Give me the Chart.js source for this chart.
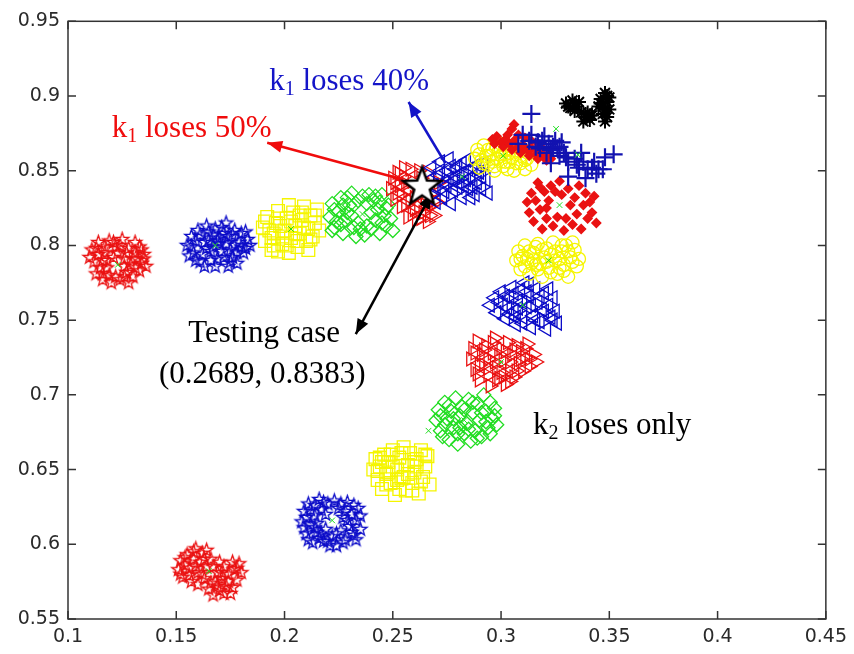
<!DOCTYPE html>
<html>
<head>
<meta charset="utf-8">
<script src="https://cdn.jsdelivr.net/npm/chart.js@4.4.1/dist/chart.umd.min.js"></script>
<style>
  html, body { margin: 0; padding: 0; background: #fff; }
  #wrap { width: 854px; height: 654px; position: relative; }
</style>
</head>
<body>
<div id="wrap"><canvas id="scatterChart"></canvas></div>
<script>
// tick values and labels (MATLAB style)
const xTickValues = [0.1, 0.15, 0.2, 0.25, 0.3, 0.35, 0.4, 0.45];
const xTickLabels = ['0.1', '0.15', '0.2', '0.25', '0.3', '0.35', '0.4', '0.45'];
const yTickValues = [0.55, 0.6, 0.65, 0.7, 0.75, 0.8, 0.85, 0.9, 0.95];
const yTickLabels = ['0.55', '0.6', '0.65', '0.7', '0.75', '0.8', '0.85', '0.9', '0.95'];

// upper arm (k1 losses), left to right
const redStarsUpper = [[0.111,0.797],[0.114,0.802],[0.117,0.795],[0.119,0.803],[0.122,0.799],[0.125,0.804],[0.128,0.798],[0.131,0.802],[0.134,0.797],[0.112,0.789],[0.115,0.785],[0.118,0.790],[0.121,0.792],[0.126,0.791],[0.129,0.787],[0.132,0.791],[0.136,0.786],[0.113,0.781],[0.116,0.777],[0.119,0.780],[0.127,0.782],[0.130,0.779],[0.133,0.783],[0.120,0.775],[0.124,0.777],[0.128,0.775],[0.117,0.799],[0.123,0.795],[0.135,0.791],[0.131,0.795],[0.114,0.794],[0.126,0.786],
    [0.110,0.792],[0.113,0.798],[0.116,0.790],[0.118,0.785],[0.121,0.802],[0.124,0.800],[0.127,0.795],[0.130,0.791],[0.133,0.799],[0.135,0.794],[0.116,0.781],[0.122,0.779],[0.131,0.785],[0.134,0.788],[0.126,0.779]];
const blueStarsUpper = [[0.155,0.800],[0.157,0.806],[0.158,0.795],[0.160,0.810],[0.161,0.789],[0.163,0.802],[0.164,0.813],[0.166,0.796],[0.167,0.807],[0.168,0.786],[0.170,0.801],[0.171,0.812],[0.172,0.792],[0.174,0.806],[0.175,0.797],[0.177,0.810],[0.178,0.788],[0.179,0.802],[0.181,0.795],[0.183,0.804],[0.182,0.798],[0.159,0.803],[0.162,0.794],[0.165,0.809],[0.169,0.791],[0.173,0.815],[0.176,0.792],[0.180,0.808],[0.156,0.793],[0.163,0.786],[0.174,0.786],[0.170,0.805],[0.167,0.799],[0.177,0.800],
    [0.157,0.799],[0.159,0.790],[0.161,0.807],[0.164,0.798],[0.166,0.790],[0.168,0.811],[0.169,0.803],[0.171,0.796],[0.173,0.801],[0.175,0.789],[0.176,0.807],[0.178,0.795],[0.180,0.799],[0.182,0.809],[0.184,0.800],[0.172,0.808],[0.165,0.803]];
const yellowSquaresUpper = [[0.190,0.812],[0.191,0.803],[0.192,0.819],[0.194,0.797],[0.195,0.808],[0.196,0.815],[0.197,0.823],[0.199,0.801],[0.200,0.810],[0.201,0.818],[0.202,0.795],[0.203,0.805],[0.204,0.822],[0.205,0.813],[0.206,0.799],[0.207,0.808],[0.208,0.817],[0.209,0.826],[0.210,0.803],[0.211,0.811],[0.212,0.820],[0.213,0.806],[0.214,0.815],[0.215,0.824],[0.193,0.810],[0.198,0.813],[0.202,0.827],[0.206,0.803],[0.211,0.797],[0.216,0.810],[0.195,0.800],[0.208,0.822],
    [0.191,0.816],[0.194,0.805],[0.197,0.818],[0.199,0.806],[0.201,0.800],[0.203,0.816],[0.205,0.808],[0.207,0.820],[0.209,0.812],[0.212,0.804],[0.214,0.820],[0.197,0.796]];
const greenDiamondsUpper = [[0.221,0.819],[0.222,0.828],[0.223,0.812],[0.225,0.823],[0.226,0.832],[0.227,0.808],[0.228,0.817],[0.230,0.827],[0.231,0.835],[0.232,0.812],[0.233,0.806],[0.234,0.830],[0.236,0.833],[0.235,0.811],[0.237,0.807],[0.240,0.811],[0.241,0.830],[0.242,0.817],[0.243,0.824],[0.244,0.808],[0.245,0.834],[0.246,0.820],[0.247,0.813],[0.248,0.827],[0.249,0.818],[0.231,0.820],[0.229,0.822],[0.239,0.834],[0.244,0.829],[0.224,0.816],[0.250,0.810],[0.238,0.828],
    [0.223,0.824],[0.226,0.814],[0.229,0.832],[0.232,0.827],[0.234,0.815],[0.240,0.822],[0.242,0.833],[0.245,0.815],[0.247,0.825],[0.227,0.827],[0.238,0.813],[0.222,0.810]];
const redTrianglesUpper = [[0.249,0.838],[0.250,0.845],[0.251,0.831],[0.252,0.849],[0.253,0.840],[0.254,0.834],[0.255,0.846],[0.256,0.827],[0.257,0.837],[0.258,0.851],[0.259,0.821],[0.259,0.843],[0.260,0.832],[0.261,0.817],[0.262,0.826],[0.263,0.845],[0.264,0.822],[0.265,0.831],[0.266,0.816],[0.267,0.826],[0.268,0.835],[0.269,0.820],[0.270,0.829],[0.271,0.842],[0.254,0.826],[0.257,0.819],[0.263,0.836],[0.266,0.849],[0.255,0.852],[0.261,0.838],
    [0.251,0.842],[0.253,0.848],[0.256,0.841],[0.258,0.830],[0.260,0.824],[0.263,0.818],[0.265,0.827],[0.267,0.820],[0.269,0.830],[0.252,0.835],[0.262,0.850]];
const blueTrianglesUpper = [[0.267,0.844],[0.268,0.852],[0.270,0.838],[0.271,0.847],[0.272,0.856],[0.273,0.832],[0.274,0.842],[0.275,0.850],[0.276,0.858],[0.277,0.828],[0.278,0.837],[0.279,0.846],[0.280,0.853],[0.281,0.841],[0.282,0.832],[0.283,0.849],[0.284,0.857],[0.285,0.838],[0.286,0.845],[0.287,0.852],[0.288,0.834],[0.289,0.842],[0.290,0.849],[0.291,0.838],[0.292,0.855],[0.293,0.844],[0.281,0.848],[0.279,0.851],[0.284,0.844],[0.276,0.845],[0.294,0.835],[0.270,0.829],
    [0.269,0.840],[0.272,0.850],[0.274,0.836],[0.277,0.853],[0.278,0.843],[0.280,0.839],[0.282,0.855],[0.283,0.840],[0.285,0.851],[0.287,0.839],[0.289,0.854],[0.291,0.846],[0.275,0.840],[0.286,0.832]];
const yellowCirclesUpper = [[0.288,0.858],[0.289,0.864],[0.290,0.852],[0.292,0.867],[0.293,0.860],[0.294,0.854],[0.296,0.865],[0.297,0.850],[0.298,0.858],[0.300,0.868],[0.301,0.853],[0.302,0.861],[0.304,0.856],[0.305,0.866],[0.306,0.850],[0.307,0.861],[0.309,0.855],[0.310,0.864],[0.311,0.851],[0.312,0.858],[0.313,0.863],[0.295,0.860],[0.299,0.863],[0.303,0.851],[0.308,0.868],[0.291,0.857],[0.314,0.854],[0.300,0.856],
    [0.290,0.861],[0.292,0.855],[0.294,0.864],[0.296,0.856],[0.298,0.866],[0.300,0.860],[0.302,0.856],[0.303,0.865],[0.305,0.859],[0.307,0.855],[0.309,0.860],[0.311,0.857],[0.297,0.853],[0.304,0.862]];
const redDotsUpper = [[0.296,0.871],[0.297,0.868],[0.298,0.873],[0.300,0.869],[0.301,0.866],[0.302,0.871],[0.304,0.868],[0.305,0.864],[0.306,0.870],[0.308,0.866],[0.309,0.862],[0.310,0.867],[0.312,0.864],[0.313,0.860],[0.314,0.865],[0.316,0.861],[0.317,0.858],[0.318,0.863],[0.320,0.860],[0.321,0.857],[0.322,0.861],[0.323,0.858],[0.306,0.881],[0.305,0.878],[0.308,0.874],[0.311,0.872],[0.314,0.870],[0.317,0.868],[0.303,0.874],[0.319,0.865]];
const bluePlus = [[0.314,0.888],[0.314,0.874],[0.310,0.874],[0.317,0.869],[0.320,0.873],[0.322,0.868],[0.324,0.866],[0.326,0.865],[0.321,0.862],[0.318,0.865],[0.323,0.855],[0.327,0.860],[0.329,0.862],[0.331,0.856],[0.334,0.858],[0.336,0.852],[0.340,0.851],[0.339,0.845],[0.331,0.846],[0.343,0.856],[0.345,0.851],[0.347,0.851],[0.348,0.859],[0.352,0.861],[0.344,0.848],[0.313,0.870],[0.325,0.870],[0.337,0.862],[0.308,0.868],[0.328,0.869],
    [0.316,0.866],[0.319,0.870],[0.323,0.864],[0.327,0.866],[0.330,0.859],[0.335,0.854],[0.342,0.852],[0.338,0.856]];
const blackAsterisks = [[0.330,0.895],[0.332,0.892],[0.333,0.897],[0.335,0.893],[0.334,0.890],[0.337,0.889],[0.339,0.886],[0.340,0.889],[0.341,0.884],[0.338,0.883],[0.342,0.887],[0.346,0.898],[0.347,0.893],[0.348,0.902],[0.349,0.896],[0.350,0.891],[0.347,0.888],[0.348,0.883],[0.345,0.893],[0.350,0.899],[0.336,0.896],
    [0.331,0.893],[0.334,0.895],[0.339,0.888],[0.341,0.887],[0.346,0.895],[0.349,0.900],[0.348,0.891],[0.349,0.886]];

// lower arm (k2 loses only), top to bottom
const redDotsLower = [[0.312,0.829],[0.313,0.822],[0.314,0.835],[0.315,0.816],[0.316,0.830],[0.317,0.842],[0.318,0.824],[0.319,0.811],[0.320,0.836],[0.321,0.818],[0.322,0.830],[0.323,0.840],[0.324,0.813],[0.325,0.836],[0.326,0.819],[0.328,0.834],[0.329,0.810],[0.330,0.818],[0.331,0.838],[0.332,0.827],[0.333,0.814],[0.334,0.832],[0.335,0.821],[0.336,0.840],[0.337,0.811],[0.338,0.827],[0.339,0.835],[0.340,0.818],[0.341,0.829],[0.342,0.822],[0.343,0.833],[0.344,0.815],[0.318,0.839],[0.327,0.843],[0.321,0.825]];
const yellowCirclesLower = [[0.307,0.790],[0.308,0.796],[0.309,0.784],[0.311,0.800],[0.312,0.791],[0.313,0.781],[0.315,0.795],[0.316,0.787],[0.317,0.801],[0.319,0.779],[0.320,0.792],[0.321,0.798],[0.322,0.785],[0.324,0.802],[0.325,0.790],[0.326,0.781],[0.328,0.796],[0.329,0.787],[0.330,0.800],[0.331,0.779],[0.332,0.792],[0.334,0.797],[0.335,0.786],[0.318,0.788],[0.323,0.794],[0.327,0.785],[0.310,0.793],[0.333,0.802],[0.336,0.791],[0.314,0.788],
    [0.309,0.791],[0.311,0.786],[0.313,0.796],[0.315,0.790],[0.317,0.784],[0.319,0.797],[0.321,0.789],[0.323,0.782],[0.325,0.796],[0.327,0.791],[0.329,0.783],[0.331,0.796],[0.333,0.789],[0.316,0.799],[0.328,0.800]];
const blueTrianglesLower = [[0.295,0.760],[0.297,0.765],[0.298,0.755],[0.300,0.769],[0.301,0.760],[0.302,0.751],[0.304,0.765],[0.305,0.772],[0.306,0.756],[0.307,0.747],[0.308,0.763],[0.309,0.770],[0.310,0.752],[0.311,0.775],[0.312,0.759],[0.313,0.766],[0.314,0.745],[0.315,0.753],[0.316,0.771],[0.317,0.762],[0.318,0.749],[0.319,0.757],[0.320,0.768],[0.321,0.744],[0.322,0.760],[0.323,0.752],[0.324,0.765],[0.325,0.756],[0.326,0.748],[0.303,0.758],[0.310,0.762],
    [0.299,0.762],[0.302,0.766],[0.304,0.754],[0.306,0.768],[0.308,0.758],[0.310,0.748],[0.312,0.769],[0.314,0.760],[0.316,0.750],[0.318,0.766],[0.320,0.756],[0.322,0.771],[0.324,0.750],[0.313,0.774],[0.307,0.752]];
const redTrianglesLower = [[0.286,0.724],[0.287,0.731],[0.288,0.717],[0.289,0.736],[0.290,0.710],[0.291,0.727],[0.292,0.720],[0.293,0.733],[0.294,0.713],[0.295,0.706],[0.296,0.728],[0.297,0.738],[0.298,0.718],[0.299,0.711],[0.300,0.731],[0.301,0.723],[0.302,0.707],[0.303,0.735],[0.304,0.716],[0.305,0.727],[0.306,0.712],[0.307,0.733],[0.308,0.721],[0.309,0.729],[0.310,0.716],[0.311,0.725],[0.312,0.734],[0.313,0.719],[0.315,0.727],[0.316,0.722],[0.294,0.724],[0.300,0.715],[0.289,0.714],
    [0.288,0.728],[0.290,0.720],[0.292,0.730],[0.294,0.718],[0.296,0.735],[0.297,0.722],[0.299,0.727],[0.301,0.712],[0.302,0.729],[0.304,0.722],[0.306,0.730],[0.307,0.716],[0.309,0.724],[0.311,0.731],[0.313,0.724],[0.298,0.710],[0.304,0.709]];
const greenDiamondsLower = [[0.270,0.683],[0.271,0.690],[0.272,0.676],[0.274,0.695],[0.275,0.684],[0.276,0.670],[0.277,0.689],[0.278,0.678],[0.279,0.698],[0.280,0.667],[0.281,0.686],[0.282,0.692],[0.283,0.674],[0.284,0.681],[0.285,0.697],[0.286,0.669],[0.287,0.688],[0.288,0.676],[0.289,0.694],[0.290,0.683],[0.291,0.672],[0.292,0.700],[0.293,0.689],[0.294,0.678],[0.295,0.695],[0.296,0.684],[0.297,0.691],[0.298,0.680],[0.273,0.672],[0.281,0.678],
    [0.272,0.686],[0.274,0.680],[0.276,0.693],[0.278,0.684],[0.280,0.674],[0.283,0.690],[0.285,0.677],[0.287,0.695],[0.289,0.671],[0.291,0.688],[0.293,0.682],[0.295,0.674],[0.297,0.686]];
const yellowSquaresLower = [[0.241,0.650],[0.242,0.657],[0.243,0.643],[0.244,0.652],[0.245,0.637],[0.246,0.660],[0.247,0.647],[0.248,0.655],[0.249,0.641],[0.250,0.663],[0.251,0.633],[0.252,0.650],[0.253,0.658],[0.254,0.644],[0.255,0.665],[0.256,0.636],[0.257,0.653],[0.258,0.661],[0.259,0.641],[0.260,0.648],[0.261,0.657],[0.262,0.634],[0.263,0.663],[0.264,0.645],[0.265,0.652],[0.266,0.659],[0.267,0.640],[0.248,0.648],[0.255,0.645],[0.260,0.655],[0.244,0.658],
    [0.243,0.649],[0.245,0.655],[0.247,0.640],[0.250,0.652],[0.252,0.643],[0.254,0.661],[0.257,0.647],[0.259,0.636],[0.261,0.652],[0.263,0.642],[0.265,0.660],[0.253,0.637],[0.249,0.660]];
const blueStarsLower = [[0.208,0.615],[0.209,0.622],[0.210,0.607],[0.211,0.627],[0.212,0.613],[0.213,0.601],[0.214,0.619],[0.215,0.608],[0.216,0.630],[0.217,0.623],[0.218,0.602],[0.219,0.610],[0.220,0.627],[0.222,0.605],[0.223,0.629],[0.224,0.599],[0.225,0.624],[0.226,0.609],[0.227,0.618],[0.228,0.603],[0.229,0.628],[0.230,0.612],[0.231,0.620],[0.232,0.606],[0.233,0.616],[0.234,0.624],[0.235,0.610],[0.214,0.611],[0.210,0.618],[0.221,0.599],[0.228,0.622],[0.216,0.604],
    [0.209,0.611],[0.211,0.603],[0.212,0.623],[0.214,0.626],[0.215,0.614],[0.217,0.607],[0.219,0.620],[0.220,0.602],[0.224,0.607],[0.226,0.627],[0.227,0.601],[0.229,0.616],[0.231,0.608],[0.232,0.626],[0.233,0.603],[0.235,0.619],[0.218,0.628]];
const redStarsLower = [[0.151,0.583],[0.152,0.589],[0.153,0.578],[0.155,0.593],[0.156,0.584],[0.157,0.575],[0.158,0.590],[0.159,0.597],[0.160,0.581],[0.161,0.588],[0.162,0.594],[0.163,0.577],[0.164,0.585],[0.165,0.570],[0.166,0.590],[0.167,0.566],[0.168,0.575],[0.169,0.581],[0.170,0.569],[0.171,0.577],[0.172,0.585],[0.173,0.572],[0.174,0.580],[0.175,0.567],[0.176,0.588],[0.177,0.583],[0.178,0.576],[0.179,0.587],[0.154,0.586],[0.160,0.573],[0.170,0.588],
    [0.152,0.580],[0.154,0.591],[0.156,0.579],[0.158,0.595],[0.159,0.585],[0.162,0.580],[0.163,0.590],[0.166,0.574],[0.167,0.585],[0.169,0.572],[0.171,0.581],[0.172,0.567],[0.174,0.575],[0.176,0.571],[0.178,0.584],[0.180,0.581],[0.164,0.596]];

// cluster centres (green x) and the testing case
const centroids = [[0.123,0.787],[0.168,0.800],[0.203,0.811],[0.236,0.821],[0.262,0.834],[0.282,0.846],[0.301,0.860],[0.3254,0.878],[0.3355,0.8607],[0.327,0.827],[0.322,0.790],[0.310,0.760],[0.300,0.722],[0.283,0.683],[0.2665,0.676],[0.222,0.616],[0.165,0.582]];
const testingCase = [[0.2635, 0.839]];

const labelK1Loses50 = ['k', '1', ' loses 50%'];
const labelK1Loses40 = ['k', '1', ' loses 40%'];
const labelK2LosesOnly = ['k', '2', ' loses only'];
const labelTesting = 'Testing case';
const labelTestingValue = '(0.2689, 0.8383)';

const RED = '#ea1212';
const BLUE = '#0c0cc8';
const YELLOW = '#f5f500';
const GREEN = '#22dd22';
const LW = 1.3;

function starImage(color, outer, inner, lw, fill) {
    const size = Math.ceil(outer * 2 + lw * 2 + 2);
    const c = document.createElement('canvas');
    c.width = size;
    c.height = size;
    const g = c.getContext('2d');
    g.beginPath();
    for (let k = 0; k < 10; k++) {
        const r = k % 2 ? inner : outer;
        const a = -Math.PI / 2 + k * Math.PI / 5;
        g.lineTo(size / 2 + r * Math.cos(a), size / 2 + r * Math.sin(a));
    }
    g.closePath();
    if (fill) {
        g.fillStyle = fill;
        g.fill();
    }
    g.lineJoin = 'miter';
    g.lineWidth = lw;
    g.strokeStyle = color;
    g.stroke();
    return c;
}

function cluster(points, style, color, radius, extra = {}) {
    return Object.assign({
        data: points.map(p => ({ x: p[0], y: p[1] })),
        pointStyle: style,
        pointRadius: radius,
        pointHoverRadius: radius,
        pointBorderColor: color,
        pointBackgroundColor: 'rgba(0,0,0,0)',
        pointBorderWidth: LW,
        showLine: false
    }, extra);
}

const redStar = starImage(RED, 7, 2.8, LW);
const blueStar = starImage(BLUE, 7, 2.8, LW);
const bigStar = starImage('#000', 20, 8.2, 2.5, '#fff');

// first dataset is drawn on top
const datasets = [
    cluster(testingCase, bigStar, '#000', 20),
    cluster(centroids, 'crossRot', GREEN, 4, { pointBorderWidth: 1 }),
    cluster(blackAsterisks, 'star', '#000', 7, { pointBorderWidth: 2 }),
    cluster(bluePlus, 'cross', '#1212b0', 9, { pointBorderWidth: 2.2 }),
    cluster(redDotsUpper, 'rectRot', RED, 4.5, { pointBackgroundColor: RED }),
    cluster(yellowCirclesUpper, 'circle', YELLOW, 6.5),
    cluster(blueTrianglesUpper, 'triangle', BLUE, 8, { pointRotation: -90 }),
    cluster(redTrianglesUpper, 'triangle', RED, 8, { pointRotation: 90 }),
    cluster(greenDiamondsUpper, 'rectRot', GREEN, 7),
    cluster(yellowSquaresUpper, 'rect', YELLOW, 9),
    cluster(blueStarsUpper, blueStar, BLUE, 7),
    cluster(redStarsUpper, redStar, RED, 7),
    cluster(redDotsLower, 'rectRot', RED, 4.5, { pointBackgroundColor: RED }),
    cluster(yellowCirclesLower, 'circle', YELLOW, 6.5),
    cluster(blueTrianglesLower, 'triangle', BLUE, 8, { pointRotation: -90 }),
    cluster(redTrianglesLower, 'triangle', RED, 8, { pointRotation: 90 }),
    cluster(greenDiamondsLower, 'rectRot', GREEN, 7),
    cluster(yellowSquaresLower, 'rect', YELLOW, 9),
    cluster(blueStarsLower, blueStar, BLUE, 7),
    cluster(redStarsLower, redStar, RED, 7)
];

function arrow(ctx, x0, y0, x1, y1, color, both) {
    const head = (ax, ay, bx, by) => {
        const ang = Math.atan2(by - ay, bx - ax);
        ctx.beginPath();
        ctx.moveTo(bx, by);
        ctx.lineTo(bx - 15 * Math.cos(ang) + 6 * Math.sin(ang), by - 15 * Math.sin(ang) - 6 * Math.cos(ang));
        ctx.lineTo(bx - 15 * Math.cos(ang) - 6 * Math.sin(ang), by - 15 * Math.sin(ang) + 6 * Math.cos(ang));
        ctx.closePath();
        ctx.fill();
    };
    ctx.save();
    ctx.strokeStyle = color;
    ctx.fillStyle = color;
    ctx.lineWidth = 2.5;
    ctx.beginPath();
    ctx.moveTo(x0, y0);
    ctx.lineTo(x1, y1);
    ctx.stroke();
    head(x0, y0, x1, y1);
    if (both) head(x1, y1, x0, y0);
    ctx.restore();
}

function subLabel(ctx, parts, x, y, color) {
    ctx.save();
    ctx.fillStyle = color;
    ctx.textBaseline = 'alphabetic';
    ctx.textAlign = 'left';
    ctx.font = '31px "Liberation Serif", "Times New Roman", serif';
    ctx.fillText(parts[0], x, y);
    let cx = x + ctx.measureText(parts[0]).width;
    ctx.font = '20px "Liberation Serif", "Times New Roman", serif';
    ctx.fillText(parts[1], cx, y + 5);
    cx += ctx.measureText(parts[1]).width;
    ctx.font = '31px "Liberation Serif", "Times New Roman", serif';
    ctx.fillText(parts[2], cx, y);
    ctx.restore();
}

const annotations = {
    id: 'annotations',
    afterDatasetDraw(chart, args) {
        if (args.index !== 1) return;
        const { ctx, scales: { x, y } } = chart;
        const px = v => x.getPixelForValue(v);
        const py = v => y.getPixelForValue(v);
        arrow(ctx, px(0.255), py(0.844), px(0.192), py(0.8687), '#f00c0c', false);
        arrow(ctx, px(0.2743), py(0.855), px(0.2573), py(0.896), '#1414c8', false);
        arrow(ctx, px(0.2679), py(0.8347), px(0.2329), py(0.7407), '#000', true);
    },
    afterDraw(chart) {
        const { ctx, scales: { x, y } } = chart;
        const px = v => x.getPixelForValue(v);
        const py = v => y.getPixelForValue(v);
        subLabel(ctx, labelK1Loses50, px(0.1202), py(0.8727), '#f00c0c');
        subLabel(ctx, labelK1Loses40, px(0.1929), py(0.904), '#1414c8');
        subLabel(ctx, labelK2LosesOnly, px(0.3148), py(0.674), '#000');
        ctx.save();
        ctx.fillStyle = '#000';
        ctx.textAlign = 'center';
        ctx.textBaseline = 'alphabetic';
        ctx.font = '31px "Liberation Serif", "Times New Roman", serif';
        ctx.fillText(labelTesting, px(0.1906), py(0.7355));
        ctx.fillText(labelTestingValue, px(0.1897), py(0.7082));
        ctx.restore();
    }
};

// axes box with inward ticks on all four sides
const frame = {
    id: 'frame',
    afterDraw(chart) {
        const { ctx, chartArea: a, scales: { x, y } } = chart;
        ctx.save();
        ctx.strokeStyle = '#333';
        ctx.lineWidth = 1.5;
        ctx.strokeRect(a.left, a.top, a.right - a.left, a.bottom - a.top);
        ctx.beginPath();
        x.ticks.forEach(t => {
            const p = x.getPixelForValue(t.value);
            ctx.moveTo(p, a.bottom); ctx.lineTo(p, a.bottom - 8);
            ctx.moveTo(p, a.top); ctx.lineTo(p, a.top + 8);
        });
        y.ticks.forEach(t => {
            const p = y.getPixelForValue(t.value);
            ctx.moveTo(a.left, p); ctx.lineTo(a.left + 8, p);
            ctx.moveTo(a.right, p); ctx.lineTo(a.right - 8, p);
        });
        ctx.stroke();
        ctx.restore();
    }
};

const tickFont = { family: '"DejaVu Sans", sans-serif', size: 19 };

new Chart(document.getElementById('scatterChart'), {
    type: 'scatter',
    data: { datasets: datasets },
    options: {
        responsive: true,
        maintainAspectRatio: false,
        animation: false,
        events: [],
        layout: { padding: { top: 19, right: 25, left: 0, bottom: 0 } },
        plugins: {
            legend: { display: false },
            tooltip: { enabled: false }
        },
        scales: {
            x: {
                type: 'linear',
                min: 0.1,
                max: 0.45,
                grid: { display: false, drawTicks: false },
                border: { display: false },
                afterBuildTicks: s => { s.ticks = xTickValues.map(v => ({ value: v })); },
                afterFit: s => { s.height = 35; },
                ticks: {
                    autoSkip: false,
                    maxRotation: 0,
                    padding: 7,
                    color: '#2a2a2a',
                    font: tickFont,
                    callback: (v, i) => xTickLabels[i]
                }
            },
            y: {
                type: 'linear',
                min: 0.55,
                max: 0.95,
                grid: { display: false, drawTicks: false },
                border: { display: false },
                afterBuildTicks: s => { s.ticks = yTickValues.map(v => ({ value: v })); },
                afterFit: s => { s.width = 68; },
                ticks: {
                    autoSkip: false,
                    padding: 8,
                    color: '#2a2a2a',
                    font: tickFont,
                    callback: (v, i) => yTickLabels[i]
                }
            }
        }
    },
    plugins: [annotations, frame]
});
</script>
</body>
</html>
